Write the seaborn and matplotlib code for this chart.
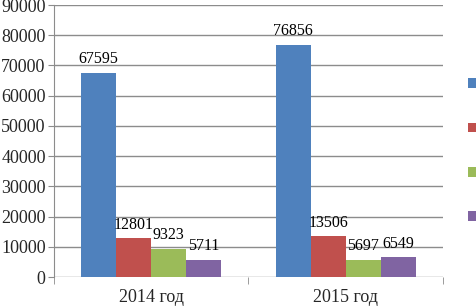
import matplotlib
matplotlib.use("Agg")
import matplotlib.pyplot as plt
import seaborn as sns
import pandas as pd
from matplotlib.patches import Patch

categories = ["2014 год", "2015 год"]
series = ["Ряд 1", "Ряд 2", "Ряд 3", "Ряд 4"]
values_2014 = [67595, 12801, 9323, 5711]
values_2015 = [76856, 13506, 5697, 6549]
colors = ["#4F81BD", "#C0504D", "#9BBB59", "#8064A2"]

rows = []
for cat, vals in zip(categories, [values_2014, values_2015]):
    for s, v in zip(series, vals):
        rows.append({"cat": cat, "series": s, "value": v})
df = pd.DataFrame(rows)

sns.set_style("white")
plt.rcParams["font.family"] = ["Liberation Serif", "DejaVu Serif"]

fig = plt.figure(figsize=(4.77, 3.08), dpi=100)
ax = fig.add_axes([54/477, 31/308, (443-54)/477, (277-5)/308])

sns.barplot(data=df, x="cat", y="value", hue="series", palette=colors,
            width=0.72, gap=0, ax=ax, legend=False, saturation=1,
            edgecolor="none", linewidth=0)

for cont in ax.containers:
    ax.bar_label(cont, fmt="%d", padding=4, fontsize=11.5, color="black")

ax.set_ylim(0, 90000)
ax.set_yticks(range(0, 90001, 10000))
ax.set_xlim(-0.5, 1.5)
ax.set_xticks([-0.5, 0.5, 1.5], minor=True)
ax.set_xlabel("")
ax.set_ylabel("")
ax.yaxis.grid(True, color="#8c8c8c", linewidth=1)
ax.set_axisbelow(True)
for side in ["top", "right", "bottom"]:
    ax.spines[side].set_visible(False)
ax.spines["left"].set_color("#8c8c8c")
ax.tick_params(axis="y", labelsize=13, length=4, color="#8c8c8c", pad=2, left=True)
ax.tick_params(axis="x", which="major", labelsize=13, length=0, pad=9)
ax.tick_params(axis="x", which="minor", length=5, color="#8c8c8c", bottom=True)

handles = [Patch(facecolor=c, edgecolor="none") for c in colors]
fig.legend(handles, [" "] * 4, loc="upper left", bbox_to_anchor=(468/477, 1 - 78/308),
           frameon=False, borderpad=0, borderaxespad=0, handlelength=0.6,
           handleheight=0.7, handletextpad=0.2, labelspacing=2.25, fontsize=10)

fig.savefig("out.png", dpi=100)
